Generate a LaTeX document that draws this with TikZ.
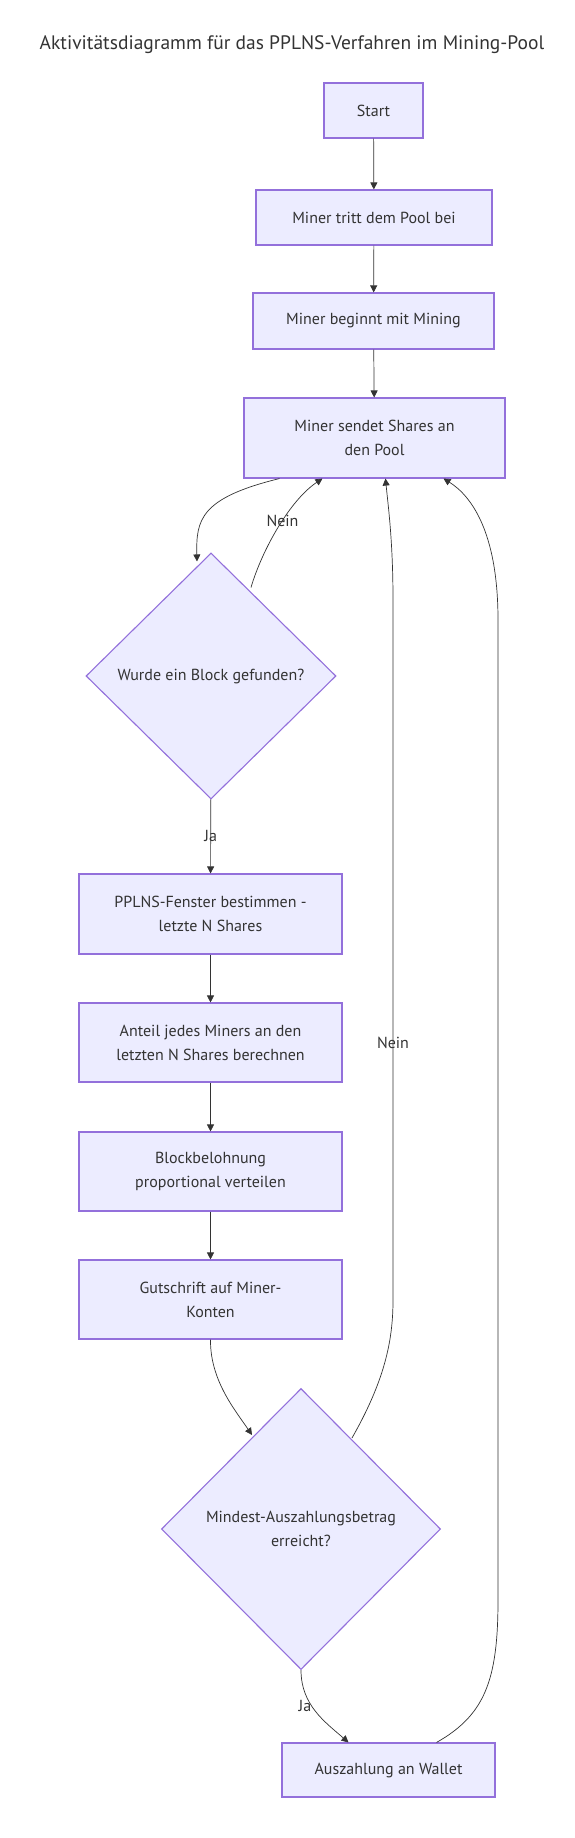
\documentclass[tikz,border=0pt]{standalone}
\usepackage{fontspec}
\setmainfont{PT Sans}
\usetikzlibrary{shapes.geometric, arrows.meta}
\definecolor{nodefill}{HTML}{ECECFF}
\definecolor{nodeline}{HTML}{9370DB}
\definecolor{ink}{HTML}{333333}

\begin{document}
\begin{tikzpicture}[x=1pt, y=-1pt,
  box/.style={rectangle, draw=nodeline, fill=nodefill, line width=1.1pt, text=ink,
    align=center, inner sep=0pt, font=\fontsize{16}{24}\selectfont},
  decision/.style={diamond, draw=nodeline, fill=nodefill, line width=1.1pt, text=ink,
    align=center, inner sep=0pt, font=\fontsize{16}{24}\selectfont},
  lbl/.style={text=ink, inner sep=1pt, font=\fontsize{16}{19}\selectfont},
  flow/.style={draw=ink, line width=0.7pt, -{Triangle[length=7pt, width=7pt]}}]
\useasboundingbox (0,0) rectangle (574,1838);

\node[text=ink, font=\fontsize{19.5}{23}\selectfont] (title) at (292,45) {Aktivitätsdiagramm für das PPLNS-Verfahren im Mining-Pool};

% Nodes
\node[box, minimum width=99pt, minimum height=55pt] (start) at (373.5,110.5) {Start};
\node[box, minimum width=236pt, minimum height=55pt] (join) at (374,217.5) {Miner tritt dem Pool bei};
\node[box, minimum width=241pt, minimum height=56pt] (mine) at (373.5,321) {Miner beginnt mit Mining};
\node[box, minimum width=261pt, minimum height=80pt] (shares) at (374.5,438) {Miner sendet Shares an\\den Pool};
\node[decision, minimum width=250pt, minimum height=246pt] (found) at (211,676) {Wurde ein Block gefunden?};
\node[box, minimum width=263pt, minimum height=80pt] (window) at (210.5,914) {PPLNS-Fenster bestimmen -\\letzte N Shares};
\node[box, minimum width=263pt, minimum height=79pt] (share) at (210.5,1042.5) {Anteil jedes Miners an den\\letzten N Shares berechnen};
\node[box, minimum width=263pt, minimum height=79pt] (reward) at (210.5,1171.5) {Blockbelohnung\\proportional verteilen};
\node[box, minimum width=263pt, minimum height=79pt] (credit) at (210.5,1299.5) {Gutschrift auf Miner-\\Konten};
\node[decision, minimum width=279pt, minimum height=281pt] (payout) at (301,1529) {Mindest-Auszahlungsbetrag\\erreicht?};
\node[box, minimum width=213pt, minimum height=54pt] (wallet) at (388.5,1770) {Auszahlung an Wallet};

% Main flow
\draw[flow] (start) -- (join);
\draw[flow] (join) -- (mine);
\draw[flow] (mine) -- (shares);
\draw[flow] ([xshift=-95pt]shares.south) .. controls (200,498) and (196,520) .. ([xshift=-14pt, yshift=-9pt]found.north);
\draw[flow] ([xshift=40pt, yshift=-35pt]found.north) .. controls (262,550) and (290,500) .. node[lbl, pos=0.55] {Nein} ([xshift=-52pt]shares.south);
\draw[flow] (found) -- node[lbl] {Ja} (window);
\draw[flow] (window) -- (share);
\draw[flow] (share) -- (reward);
\draw[flow] (reward) -- (credit);
\draw[flow] (credit.south) .. controls (210,1380) and (235,1410) .. ([xshift=-49pt, yshift=-47pt]payout.north);

% Payout loop
\draw[flow] ([xshift=51pt, yshift=-50pt]payout.north) .. controls (385,1380) and (393,1340) .. (393,1300)
  -- node[lbl, pos=0.367] {Nein} (393,600) .. controls (393,540) and (388,505) .. ([xshift=11pt]shares.south);
\draw[flow] (payout.south) .. controls (301,1705) and (325,1722) .. node[lbl, pos=0.42, xshift=-7pt] {Ja} ([xshift=-40pt]wallet.north);
\draw[flow] ([xshift=48pt]wallet.north) .. controls (485,1715) and (498,1680) .. (498,1600)
  -- (498,620) .. controls (498,530) and (470,495) .. ([xshift=69pt]shares.south);

\end{tikzpicture}
\end{document}
